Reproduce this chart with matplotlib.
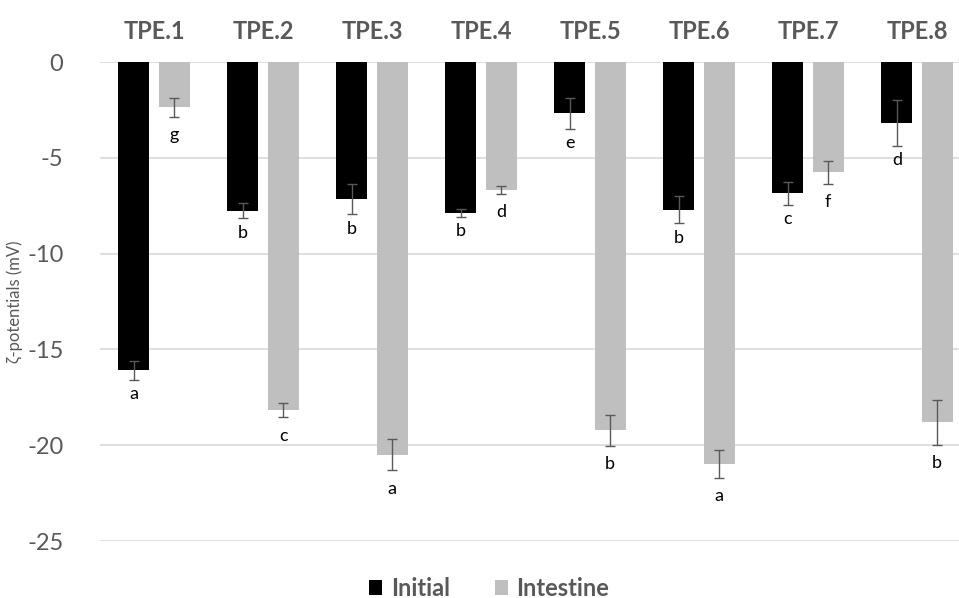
import matplotlib
matplotlib.use("Agg")
import matplotlib.pyplot as plt
import numpy as np
from matplotlib.patches import Patch

categories = ["TPE.1", "TPE.2", "TPE.3", "TPE.4", "TPE.5", "TPE.6", "TPE.7", "TPE.8"]
initial = [-16.1, -7.76, -7.15, -7.88, -2.68, -7.71, -6.84, -3.17]
initial_err = [0.5, 0.4, 0.8, 0.2, 0.8, 0.7, 0.6, 1.2]
intestine = [-2.37, -18.17, -20.49, -6.67, -19.22, -20.97, -5.76, -18.8]
intestine_err = [0.5, 0.38, 0.82, 0.22, 0.8, 0.72, 0.59, 1.18]
initial_letters = ["a", "b", "b", "b", "e", "b", "c", "d"]
intestine_letters = ["g", "c", "a", "d", "b", "a", "f", "b"]
yticks = [0, -5, -10, -15, -20, -25]

plt.rcParams['font.family'] = ['Lato', 'DejaVu Sans']
gray_txt = '#595959'

fig = plt.figure(figsize=(9.59, 5.98), dpi=100)
ax = fig.add_axes([0.1038, 0.0953, 0.9093, 0.801])

x = np.arange(len(categories))
off = 0.185
w = 0.285
err_kw = dict(ecolor='#595959', elinewidth=1.0, capsize=3.6, capthick=1.0)
ax.bar(x - off, initial, w, color='black', yerr=initial_err, error_kw=err_kw, zorder=3, label='Initial')
ax.bar(x + off, intestine, w, color='#bfbfbf', yerr=intestine_err, error_kw=err_kw, zorder=3, label='Intestine')

for i in range(len(categories)):
    ax.text(x[i] - off, initial[i] - initial_err[i] - 0.75, initial_letters[i],
            ha='center', va='center', fontsize=13, color='black')
    ax.text(x[i] + off, intestine[i] - intestine_err[i] - 0.95, intestine_letters[i],
            ha='center', va='center', fontsize=13, color='black')

ax.set_xlim(-0.5, len(categories) - 0.5)
ax.set_ylim(-25, 0)
ax.set_yticks(yticks)
ax.set_yticklabels([str(v) for v in yticks], fontsize=17, color=gray_txt)
ax.tick_params(axis='y', length=0, pad=26)
ax.xaxis.tick_top()
ax.set_xticks(x)
ax.set_xticklabels(categories, fontsize=17, fontweight='bold', color=gray_txt)
ax.tick_params(axis='x', length=0, pad=14)
ax.yaxis.grid(True, color='#d9d9d9', linewidth=1.2, zorder=0)
ax.set_axisbelow(True)
for s in ax.spines.values():
    s.set_visible(False)

ax.set_ylabel('ζ-potentials (mV)', fontsize=12, color=gray_txt)
ax.yaxis.set_label_coords(-0.088, 0.5)

handles = [Patch(facecolor='black', label='Initial'), Patch(facecolor='#bfbfbf', label='Intestine')]
leg = fig.legend(handles=handles, loc='center', bbox_to_anchor=(0.51, 0.016), ncol=2, frameon=False,
                 prop={'size': 17, 'weight': 'bold'}, handlelength=0.55, handleheight=0.55,
                 handletextpad=0.35, columnspacing=1.9, borderpad=0.1)
for t in leg.get_texts():
    t.set_color(gray_txt)

fig.savefig('out.png', dpi=100)
